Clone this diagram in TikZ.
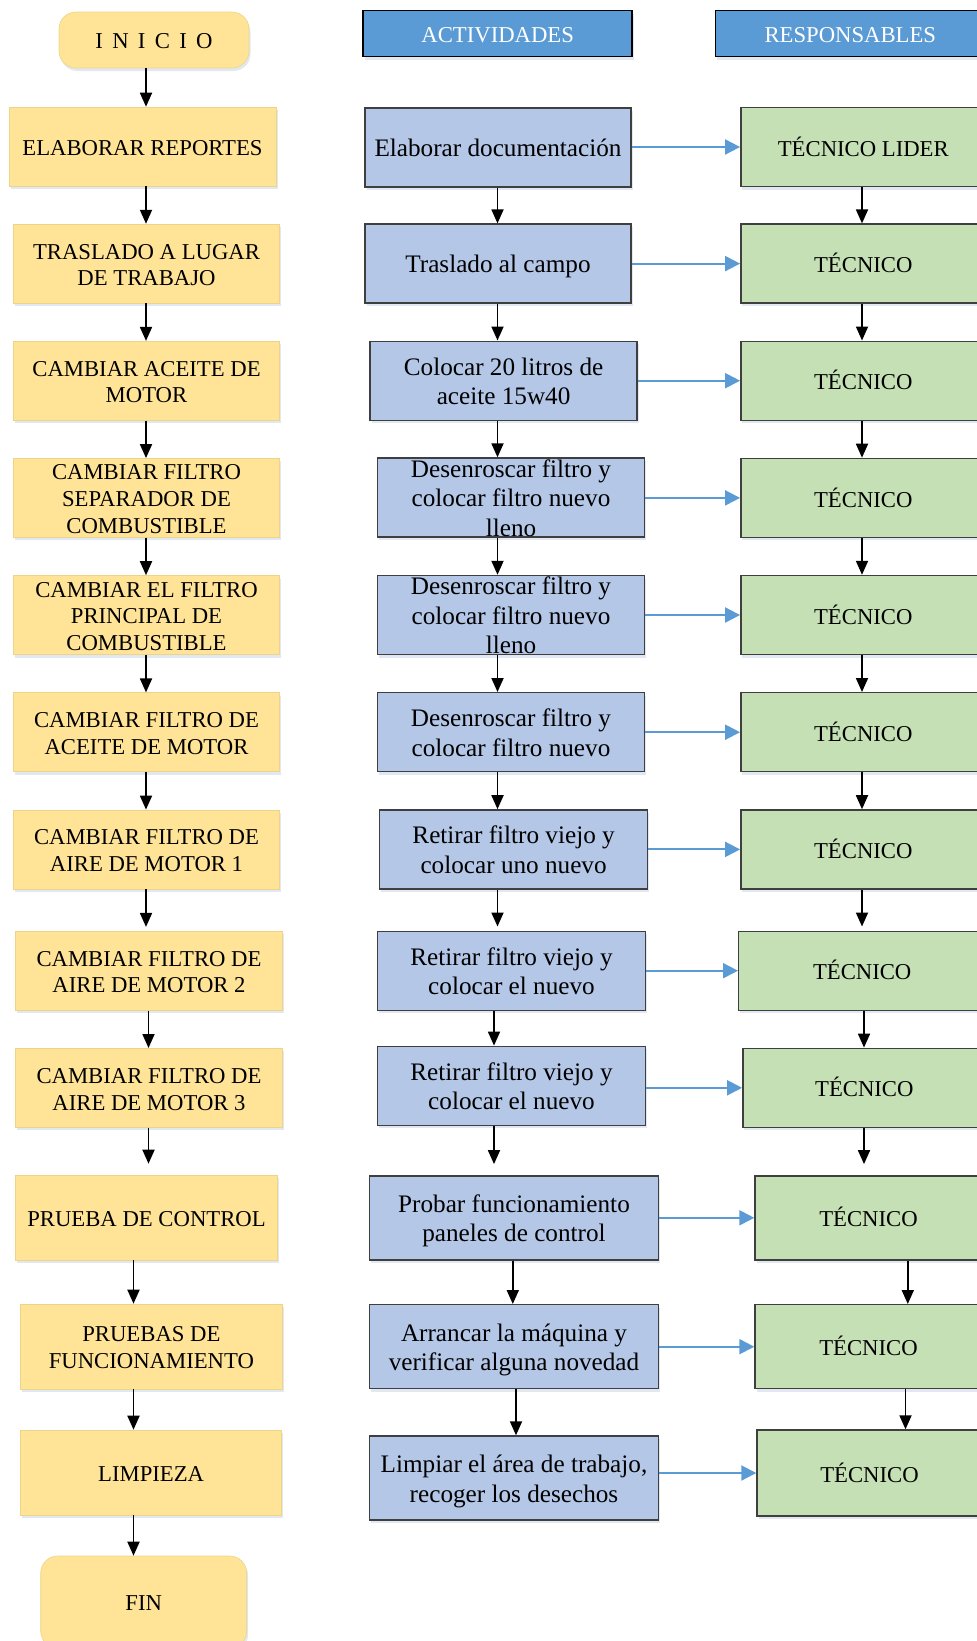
\documentclass[tikz,border=0pt]{standalone}
\usepackage{fontspec}
\setmainfont{Liberation Serif}
\usetikzlibrary{arrows.meta,shadows}

\definecolor{stepfill}{HTML}{FFE497}
\definecolor{stepedge}{HTML}{EDD488}
\definecolor{actfill}{HTML}{B4C7E7}
\definecolor{respfill}{HTML}{C5E0B4}
\definecolor{boxedge}{HTML}{3F3F3F}
\definecolor{headfill}{HTML}{5B9BD5}
\definecolor{linkblue}{HTML}{5B9BD5}
\definecolor{shade}{HTML}{A9BCDA}

% multi-line label, vertically centred and kept from enlarging its box
\newcommand{\lbl}[1]{\raisebox{-0.38em}[0pt][0pt]{\begin{tabular}{@{}c@{}}#1\end{tabular}}}
\newcommand{\wgap}{\hspace{0.41em}}

\begin{document}
\begin{tikzpicture}[x=1pt,y=-1pt,
  softshadow/.style={drop shadow={fill=shade,opacity=0.35,shadow xshift=1.5pt,shadow yshift=-3pt}},
  stepbox/.style={rectangle,inner sep=0pt,fill=stepfill,draw=stepedge,line width=0.6pt,softshadow,
    font=\fontsize{22.7}{26.8}\selectfont},
  termbox/.style={stepbox,rounded corners=17pt},
  actbox/.style={rectangle,inner sep=0pt,fill=actfill,draw=boxedge,line width=1.4pt,softshadow,
    font=\fontsize{25.2}{29.6}\selectfont},
  respbox/.style={rectangle,inner sep=0pt,fill=respfill,draw=boxedge,line width=1.4pt,softshadow,
    font=\fontsize{22.7}{26.8}\selectfont},
  headbox/.style={rectangle,inner sep=0pt,fill=headfill,draw=black,line width=1.5pt,softshadow,
    text=white,font=\fontsize{22.7}{26.8}\selectfont,minimum height=46pt},
  flow/.style={-{Triangle[length=14pt,width=12pt]},line width=1.8pt,black},
  link/.style={-{Triangle[length=15pt,width=15pt]},line width=2pt,linkblue},
]
\useasboundingbox (0,0) rectangle (977,1641);

% ---------- process steps ----------
\node[termbox,minimum width=190pt,minimum height=56pt] (l0) at (154,40) {\lbl{I\wgap N\wgap I\wgap C\wgap I\wgap O}};
\node[stepbox,minimum width=267pt,minimum height=79pt] (l1) at (142.5,146.5) {\lbl{ELABORAR REPORTES}};
\node[stepbox,minimum width=266pt,minimum height=79pt] (l2) at (146.5,263.6) {\lbl{TRASLADO A LUGAR\\DE TRABAJO}};
\node[stepbox,minimum width=266pt,minimum height=79pt] (l3) at (146.5,380.7) {\lbl{CAMBIAR ACEITE DE\\MOTOR}};
\node[stepbox,minimum width=266pt,minimum height=79pt] (l4) at (146.5,497.9) {\lbl{CAMBIAR FILTRO\\SEPARADOR DE\\COMBUSTIBLE}};
\node[stepbox,minimum width=266pt,minimum height=79pt] (l5) at (146.5,615.0) {\lbl{CAMBIAR EL FILTRO\\PRINCIPAL DE\\COMBUSTIBLE}};
\node[stepbox,minimum width=266pt,minimum height=79pt] (l6) at (146.5,732.2) {\lbl{CAMBIAR FILTRO DE\\ACEITE DE MOTOR}};
\node[stepbox,minimum width=266pt,minimum height=79pt] (l7) at (146.5,849.4) {\lbl{CAMBIAR FILTRO DE\\AIRE DE MOTOR 1}};
\node[stepbox,minimum width=267pt,minimum height=79pt] (l8) at (149,970.7) {\lbl{CAMBIAR FILTRO DE\\AIRE DE MOTOR 2}};
\node[stepbox,minimum width=267pt,minimum height=79pt] (l9) at (149,1087.8) {\lbl{CAMBIAR FILTRO DE\\AIRE DE MOTOR 3}};
\node[stepbox,minimum width=262pt,minimum height=85pt] (l10) at (146.5,1217.5) {\lbl{PRUEBA DE CONTROL}};
\node[stepbox,minimum width=262pt,minimum height=85pt] (l11) at (151.4,1346.5) {\lbl{PRUEBAS DE\\FUNCIONAMIENTO}};
\node[stepbox,minimum width=261pt,minimum height=85pt] (l12) at (151.1,1472.5) {\lbl{LIMPIEZA}};
\node[termbox,minimum width=206pt,minimum height=92pt] (fin) at (143.7,1602) {\lbl{FIN}};

% ---------- activities ----------
\node[headbox,minimum width=269pt] (ah) at (497.7,33.7) {\lbl{ACTIVIDADES}};
\node[actbox,minimum width=266pt,minimum height=79pt] (m1) at (498,147.5) {\lbl{Elaborar documentación}};
\node[actbox,minimum width=266pt,minimum height=79pt] (m2) at (498,263.6) {\lbl{Traslado al campo}};
\node[actbox,minimum width=267pt,minimum height=79pt] (m3) at (503.6,380.7) {\lbl{Colocar 20 litros de\\aceite 15w40}};
\node[actbox,minimum width=267pt,minimum height=79pt] (m4) at (511,497.5) {\lbl{Desenroscar filtro y\\colocar filtro nuevo\\lleno}};
\node[actbox,minimum width=267pt,minimum height=79pt] (m5) at (511,615) {\lbl{Desenroscar filtro y\\colocar filtro nuevo\\lleno}};
\node[actbox,minimum width=267pt,minimum height=79pt] (m6) at (511,732.2) {\lbl{Desenroscar filtro y\\colocar filtro nuevo}};
\node[actbox,minimum width=268pt,minimum height=79pt] (m7) at (513.6,849.4) {\lbl{Retirar filtro viejo y\\colocar uno nuevo}};
\node[actbox,minimum width=268pt,minimum height=79pt] (m8) at (511.5,970.7) {\lbl{Retirar filtro viejo y\\colocar el nuevo}};
\node[actbox,minimum width=268pt,minimum height=79pt] (m9) at (511.5,1085.8) {\lbl{Retirar filtro viejo y\\colocar el nuevo}};
\node[actbox,minimum width=289pt,minimum height=84pt] (m10) at (514,1217.8) {\lbl{Probar funcionamiento\\paneles de control}};
\node[actbox,minimum width=289pt,minimum height=84pt] (m11) at (514,1346.7) {\lbl{Arrancar la máquina y\\verificar alguna novedad}};
\node[actbox,minimum width=289pt,minimum height=84pt] (m12) at (514,1478) {\lbl{Limpiar el área de trabajo,\\recoger los desechos}};

% ---------- people in charge ----------
\node[headbox,minimum width=270pt] (rh) at (850.3,33.7) {\lbl{RESPONSABLES}};
\node[respbox,minimum width=245pt,minimum height=79pt] (r1) at (863.3,147) {\lbl{TÉCNICO LIDER}};
\node[respbox,minimum width=245pt,minimum height=79pt] (r2) at (863.3,263.6) {\lbl{TÉCNICO}};
\node[respbox,minimum width=245pt,minimum height=79pt] (r3) at (863.3,380.7) {\lbl{TÉCNICO}};
\node[respbox,minimum width=245pt,minimum height=79pt] (r4) at (863.3,497.9) {\lbl{TÉCNICO}};
\node[respbox,minimum width=245pt,minimum height=79pt] (r5) at (863.3,615.0) {\lbl{TÉCNICO}};
\node[respbox,minimum width=245pt,minimum height=79pt] (r6) at (863.3,732.2) {\lbl{TÉCNICO}};
\node[respbox,minimum width=245pt,minimum height=79pt] (r7) at (863.3,849.4) {\lbl{TÉCNICO}};
\node[respbox,minimum width=247pt,minimum height=79pt] (r8) at (862.2,970.7) {\lbl{TÉCNICO}};
\node[respbox,minimum width=243pt,minimum height=79pt] (r9) at (864.3,1087.8) {\lbl{TÉCNICO}};
\node[respbox,minimum width=227pt,minimum height=84pt] (r10) at (868.5,1217.8) {\lbl{TÉCNICO}};
\node[respbox,minimum width=227pt,minimum height=84pt] (r11) at (868.5,1346.7) {\lbl{TÉCNICO}};
\node[respbox,minimum width=225pt,minimum height=86pt] (r12) at (869.5,1473) {\lbl{TÉCNICO}};

% ---------- columns for the vertical arrows ----------
\coordinate (xlA) at (146,0);
\coordinate (xlB) at (148.5,0);
\coordinate (xlC) at (133.5,0);
\coordinate (xmA) at (497.5,0);
\coordinate (xmB) at (494,0);
\coordinate (xmC) at (512.8,0);
\coordinate (xmD) at (516,0);
\coordinate (xrA) at (862,0);
\coordinate (xrB) at (864,0);
\coordinate (xrC) at (907.8,0);
\coordinate (xrD) at (905.5,0);

% step sequence
\foreach \a/\b in {l0/l1,l1/l2,l2/l3,l3/l4,l4/l5,l5/l6,l6/l7}
  \draw[flow] (\a.south -| xlA) -- (\b.north -| xlA);
\draw[flow,shorten >=4pt] (l7.south -| xlA) -- (l8.north -| xlA);
\draw[flow] (l8.south -| xlB) -- (l9.north -| xlB);
\draw[flow,shorten >=11pt] (l9.south -| xlB) -- (l10.north -| xlB);
\draw[flow] (l10.south -| xlC) -- (l11.north -| xlC);
\draw[flow] (l11.south -| xlC) -- (l12.north -| xlC);
\draw[flow] (l12.south -| xlC) -- (fin.north -| xlC);

% activity sequence
\foreach \a/\b in {m1/m2,m2/m3,m3/m4,m4/m5,m5/m6,m6/m7}
  \draw[flow] (\a.south -| xmA) -- (\b.north -| xmA);
\draw[flow,shorten >=4pt] (m7.south -| xmA) -- (m8.north -| xmA);
\draw[flow] (m8.south -| xmB) -- (m9.north -| xmB);
\draw[flow,shorten >=11pt] (m9.south -| xmB) -- (m10.north -| xmB);
\draw[flow] (m10.south -| xmC) -- (m11.north -| xmC);
\draw[flow] (m11.south -| xmD) -- (m12.north -| xmD);

% people sequence
\foreach \a/\b in {r1/r2,r2/r3,r3/r4,r4/r5,r5/r6,r6/r7}
  \draw[flow] (\a.south -| xrA) -- (\b.north -| xrA);
\draw[flow,shorten >=4pt] (r7.south -| xrA) -- (r8.north -| xrA);
\draw[flow] (r8.south -| xrB) -- (r9.north -| xrB);
\draw[flow,shorten >=11pt] (r9.south -| xrB) -- (r10.north -| xrB);
\draw[flow] (r10.south -| xrC) -- (r11.north -| xrC);
\draw[flow] (r11.south -| xrD) -- (r12.north -| xrD);

% activity -> person in charge
\foreach \i in {1,...,12}
  \draw[link] (m\i.east |- r\i.west) -- (r\i.west);
\end{tikzpicture}
\end{document}
